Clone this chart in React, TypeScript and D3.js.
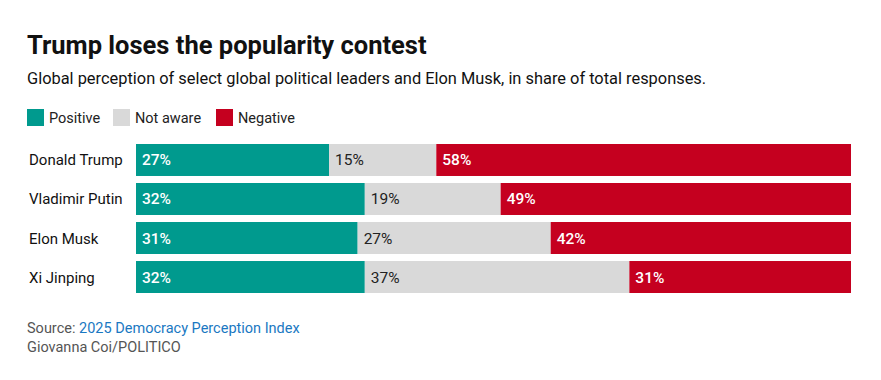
import React from "react";
import * as d3 from "d3";

const leaders = ["Donald Trump", "Vladimir Putin", "Elon Musk", "Xi Jinping"];
const positive = [27, 32, 31, 32];
const notAware = [15, 19, 27, 37];
const negative = [58, 49, 42, 31];
const seriesNames = ["Positive", "Not aware", "Negative"];
const seriesColors = ["#009a8e", "#d9d9d9", "#c5001f"];
const labelColors = ["#ffffff", "#222222", "#ffffff"];

const W = 881;
const H = 380;
const FONT = "Roboto, 'Noto Sans', sans-serif";

export default function App() {
  const x = d3.scaleLinear().domain([0, 100]).range([136, 851]);
  const y = d3.scaleBand().domain(leaders).range([144, 293]).paddingInner(0.18).paddingOuter(0);
  const rows = leaders.map((name, i) => ({ name, vals: [positive[i], notAware[i], negative[i]] }));
  const stack = d3.stack<any>().keys(["0", "1", "2"]);
  const stacked = stack(rows.map((r) => ({ "0": r.vals[0], "1": r.vals[1], "2": r.vals[2] })) as any);

  const legendX = [27, 113, 216];

  return (
    <svg width={W} height={H} style={{ position: "absolute", left: 0, top: 0, background: "#fff" }} fontFamily={FONT}>
      <rect width={W} height={H} fill="#fff" />
      <text x={27} y={54} fontSize={25.5} fontWeight={700} fill="#111">Trump loses the popularity contest</text>
      <text x={27} y={84} fontSize={16.4} fill="#111">Global perception of select global political leaders and Elon Musk, in share of total responses.</text>
      {seriesNames.map((s, i) => (
        <g key={s}>
          <rect x={legendX[i]} y={109} width={17} height={17} fill={seriesColors[i]} />
          <text x={legendX[i] + 22} y={123} fontSize={14.5} fill="#222">{s}</text>
        </g>
      ))}
      {stacked.map((layer, si) => (
        <g key={si}>
          {layer.map((d, ri) => {
            const y0 = y(leaders[ri])!;
            return (
              <g key={ri}>
                <rect x={x(d[0])} y={y0} width={x(d[1]) - x(d[0])} height={y.bandwidth()} fill={seriesColors[si]} />
                <text x={x(d[0]) + 6} y={y0 + y.bandwidth() / 2 + 5.5} fontSize={15.5} fontWeight={si === 1 ? 400 : 500} fill={labelColors[si]}>
                  {`${rows[ri].vals[si]}%`}
                </text>
              </g>
            );
          })}
        </g>
      ))}
      {leaders.map((l) => (
        <text key={l} x={29} y={y(l)! + y.bandwidth() / 2 + 5.5} fontSize={15} fill="#111">{l}</text>
      ))}
      <text x={27} y={333} fontSize={14.5} fill="#555">
        Source: <tspan fill="#1a78c2">2025 Democracy Perception Index</tspan>
      </text>
      <text x={27} y={352} fontSize={14.5} fill="#555">Giovanna Coi/POLITICO</text>
    </svg>
  );
}
